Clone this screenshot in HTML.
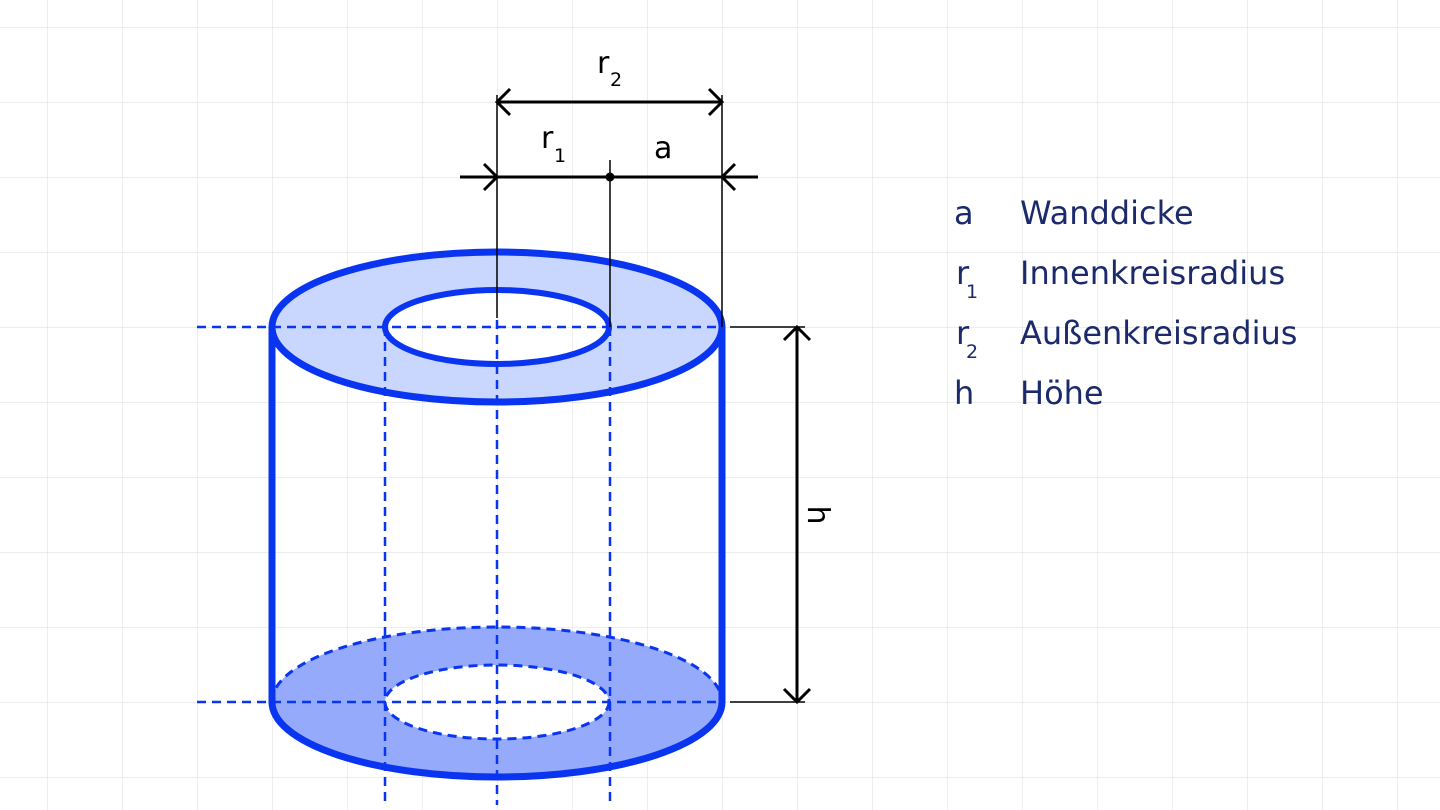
<!DOCTYPE html>
<html><head><meta charset="utf-8"><style>
html,body{margin:0;padding:0;background:#fff}
svg{display:block}
.t{font-family:"DejaVu Sans","Liberation Sans",sans-serif}
</style></head><body>
<svg width="1440" height="810" viewBox="0 0 1440 810" xmlns="http://www.w3.org/2000/svg">
<defs>
<pattern id="g" x="47" y="27" width="75" height="75" patternUnits="userSpaceOnUse">
<path d="M0 0H75M0 0V75" stroke="#e2e2e2" stroke-width="1.2" fill="none"/>
</pattern>
</defs>
<rect width="1440" height="810" fill="url(#g)"/>

<path fill-rule="evenodd" fill="#95aafb" d="M272 702a225 75 0 1 0 450 0a225 75 0 1 0 -450 0Z M385 702a112 37 0 1 0 224 0a112 37 0 1 0 -224 0Z"/>
<path d="M272 702a225 75 0 0 1 450 0" fill="none" stroke="#0a35f0" stroke-width="3" stroke-dasharray="9 6"/>
<ellipse cx="497" cy="702" rx="112" ry="37" fill="none" stroke="#0a35f0" stroke-width="3" stroke-dasharray="9 6"/>
<path d="M272 702a225 75 0 0 0 450 0" fill="none" stroke="#0a35f0" stroke-width="7"/>

<line x1="272" y1="327" x2="272" y2="702" stroke="#0a35f0" stroke-width="7"/>
<line x1="722" y1="327" x2="722" y2="702" stroke="#0a35f0" stroke-width="7"/>

<path fill-rule="evenodd" fill="#c9d6fd" d="M272 327a225 75 0 1 0 450 0a225 75 0 1 0 -450 0Z M385 327a112 37 0 1 0 224 0a112 37 0 1 0 -224 0Z"/>
<ellipse cx="497" cy="327" rx="225" ry="75" fill="none" stroke="#0a35f0" stroke-width="7"/>
<ellipse cx="497" cy="327" rx="112" ry="37" fill="none" stroke="#0a35f0" stroke-width="6"/>

<g stroke="#0a35f0" stroke-width="2.5" stroke-dasharray="9 6" fill="none">
<line x1="197" y1="327" x2="722" y2="327"/>
<line x1="197" y1="702" x2="722" y2="702"/>
<line x1="385" y1="327" x2="385" y2="805"/>
<line x1="497" y1="320" x2="497" y2="805"/>
<line x1="610" y1="327" x2="610" y2="805"/>
</g>

<g stroke="#000" fill="none">
<line x1="497" y1="95" x2="497" y2="318" stroke-width="1.5"/>
<line x1="722" y1="95" x2="722" y2="327" stroke-width="1.5"/>
<line x1="610" y1="160" x2="610" y2="327" stroke-width="1.5"/>
<line x1="497" y1="102" x2="722" y2="102" stroke-width="3"/>
<path d="M510 89L497 102L510 115M709 89L722 102L709 115" stroke-width="3"/>
<line x1="460" y1="177" x2="758" y2="177" stroke-width="3"/>
<path d="M484 164L497 177L484 190M735 164L722 177L735 190" stroke-width="3"/>
<line x1="730" y1="327" x2="805" y2="327" stroke-width="1.5"/>
<line x1="730" y1="702" x2="805" y2="702" stroke-width="1.5"/>
<line x1="797" y1="327" x2="797" y2="702" stroke-width="3"/>
<path d="M784 340L797 327L810 340M784 689L797 702L810 689" stroke-width="3"/>
</g>
<circle cx="610" cy="177" r="4.5" fill="#000"/>

<g class="t" fill="#000" font-size="30">
<text x="597" y="73">r</text><text x="610" y="86" font-size="19">2</text>
<text x="541" y="148">r</text><text x="554" y="162" font-size="19">1</text>
<text x="654" y="158">a</text>
<text transform="translate(808 515) rotate(90)" text-anchor="middle">h</text>
</g>

<g class="t" fill="#1b2a6b" font-size="32">
<text x="954" y="224">a</text><text x="1020" y="224">Wanddicke</text>
<text x="956" y="284">r</text><text x="966" y="298" font-size="19">1</text><text x="1020" y="284">Innenkreisradius</text>
<text x="956" y="344">r</text><text x="966" y="358" font-size="19">2</text><text x="1020" y="344">Außenkreisradius</text>
<text x="954" y="404">h</text><text x="1020" y="404">Höhe</text>
</g>
</svg>
</body></html>
